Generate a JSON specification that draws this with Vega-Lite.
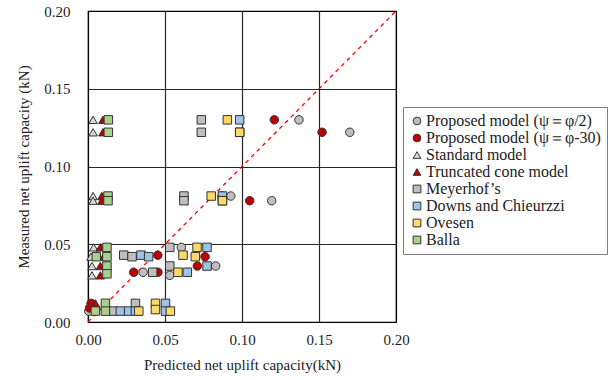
{
  "$schema": "https://vega.github.io/schema/vega-lite/v6.json",
  "width": 308,
  "height": 311,
  "autosize": {"type": "none"},
  "padding": {"left": 88, "top": 11, "right": 217, "bottom": 58},
  "background": "white",
  "config": {
    "view": {"stroke": "#000000", "strokeWidth": 1.2},
    "font": "'Liberation Serif', 'Times New Roman', serif",
    "axis": {
      "labelFont": "'Liberation Serif', 'Times New Roman', serif",
      "titleFont": "'Liberation Serif', 'Times New Roman', serif",
      "labelFontSize": 15,
      "titleFontSize": 15,
      "labelColor": "#222222",
      "titleColor": "#222222",
      "titleFontWeight": "normal",
      "ticks": false,
      "domain": false,
      "labelFlush": false,
      "grid": true,
      "gridColor": "#000000",
      "gridOpacity": 0.85,
      "gridWidth": 1.2
    }
  },
  "datasets": {
    "pts": [
      {"m": "Proposed model (ψ＝φ/2)", "x": 0.137, "y": 0.130},
      {"m": "Proposed model (ψ＝φ/2)", "x": 0.170, "y": 0.122},
      {"m": "Proposed model (ψ＝φ/2)", "x": 0.0927, "y": 0.081},
      {"m": "Proposed model (ψ＝φ/2)", "x": 0.1193, "y": 0.078},
      {"m": "Proposed model (ψ＝φ/2)", "x": 0.0606, "y": 0.048},
      {"m": "Proposed model (ψ＝φ/2)", "x": 0.0829, "y": 0.036},
      {"m": "Proposed model (ψ＝φ/2)", "x": 0.0358, "y": 0.032},
      {"m": "Proposed model (ψ＝φ/2)", "x": 0.0531, "y": 0.030},
      {"m": "Proposed model (ψ＝φ/2)", "x": 0.0005, "y": 0.007},
      {"m": "Proposed model (ψ＝φ-30)", "x": 0.121, "y": 0.130},
      {"m": "Proposed model (ψ＝φ-30)", "x": 0.152, "y": 0.122},
      {"m": "Proposed model (ψ＝φ-30)", "x": 0.087, "y": 0.081},
      {"m": "Proposed model (ψ＝φ-30)", "x": 0.105, "y": 0.078},
      {"m": "Proposed model (ψ＝φ-30)", "x": 0.0453, "y": 0.043},
      {"m": "Proposed model (ψ＝φ-30)", "x": 0.076, "y": 0.042},
      {"m": "Proposed model (ψ＝φ-30)", "x": 0.071, "y": 0.036},
      {"m": "Proposed model (ψ＝φ-30)", "x": 0.0297, "y": 0.032},
      {"m": "Proposed model (ψ＝φ-30)", "x": 0.0454, "y": 0.032},
      {"m": "Proposed model (ψ＝φ-30)", "x": 0.002, "y": 0.012},
      {"m": "Proposed model (ψ＝φ-30)", "x": 0.001, "y": 0.009},
      {"m": "Standard model", "x": 0.0033, "y": 0.130},
      {"m": "Standard model", "x": 0.0033, "y": 0.122},
      {"m": "Standard model", "x": 0.0033, "y": 0.081},
      {"m": "Standard model", "x": 0.0033, "y": 0.078},
      {"m": "Standard model", "x": 0.0037, "y": 0.048},
      {"m": "Standard model", "x": 0.002, "y": 0.042},
      {"m": "Standard model", "x": 0.0026, "y": 0.036},
      {"m": "Standard model", "x": 0.0026, "y": 0.030},
      {"m": "Truncated cone model", "x": 0.0097, "y": 0.130},
      {"m": "Truncated cone model", "x": 0.0097, "y": 0.122},
      {"m": "Truncated cone model", "x": 0.009, "y": 0.081},
      {"m": "Truncated cone model", "x": 0.009, "y": 0.078},
      {"m": "Truncated cone model", "x": 0.008, "y": 0.048},
      {"m": "Truncated cone model", "x": 0.0102, "y": 0.042},
      {"m": "Truncated cone model", "x": 0.008, "y": 0.036},
      {"m": "Truncated cone model", "x": 0.008, "y": 0.030},
      {"m": "Truncated cone model", "x": 0.0048, "y": 0.012},
      {"m": "Meyerhof’s", "x": 0.0736, "y": 0.130},
      {"m": "Meyerhof’s", "x": 0.0736, "y": 0.122},
      {"m": "Meyerhof’s", "x": 0.0623, "y": 0.081},
      {"m": "Meyerhof’s", "x": 0.0623, "y": 0.078},
      {"m": "Meyerhof’s", "x": 0.0531, "y": 0.048},
      {"m": "Meyerhof’s", "x": 0.0232, "y": 0.043},
      {"m": "Meyerhof’s", "x": 0.0286, "y": 0.042},
      {"m": "Meyerhof’s", "x": 0.0531, "y": 0.036},
      {"m": "Meyerhof’s", "x": 0.042, "y": 0.032},
      {"m": "Meyerhof’s", "x": 0.0308, "y": 0.012},
      {"m": "Meyerhof’s", "x": 0.0167, "y": 0.007},
      {"m": "Downs and Chieurzzi", "x": 0.0985, "y": 0.130},
      {"m": "Downs and Chieurzzi", "x": 0.0985, "y": 0.122},
      {"m": "Downs and Chieurzzi", "x": 0.0873, "y": 0.081},
      {"m": "Downs and Chieurzzi", "x": 0.0873, "y": 0.078},
      {"m": "Downs and Chieurzzi", "x": 0.0773, "y": 0.048},
      {"m": "Downs and Chieurzzi", "x": 0.0344, "y": 0.043},
      {"m": "Downs and Chieurzzi", "x": 0.0394, "y": 0.042},
      {"m": "Downs and Chieurzzi", "x": 0.0773, "y": 0.036},
      {"m": "Downs and Chieurzzi", "x": 0.0645, "y": 0.032},
      {"m": "Downs and Chieurzzi", "x": 0.0503, "y": 0.012},
      {"m": "Downs and Chieurzzi", "x": 0.021, "y": 0.007},
      {"m": "Downs and Chieurzzi", "x": 0.0264, "y": 0.007},
      {"m": "Downs and Chieurzzi", "x": 0.0308, "y": 0.007},
      {"m": "Downs and Chieurzzi", "x": 0.0503, "y": 0.007},
      {"m": "Ovesen", "x": 0.0905, "y": 0.130},
      {"m": "Ovesen", "x": 0.0985, "y": 0.122},
      {"m": "Ovesen", "x": 0.080, "y": 0.081},
      {"m": "Ovesen", "x": 0.0873, "y": 0.078},
      {"m": "Ovesen", "x": 0.0708, "y": 0.048},
      {"m": "Ovesen", "x": 0.0617, "y": 0.043},
      {"m": "Ovesen", "x": 0.0697, "y": 0.042},
      {"m": "Ovesen", "x": 0.0584, "y": 0.032},
      {"m": "Ovesen", "x": 0.0438, "y": 0.012},
      {"m": "Ovesen", "x": 0.0438, "y": 0.008},
      {"m": "Ovesen", "x": 0.033, "y": 0.007},
      {"m": "Ovesen", "x": 0.0535, "y": 0.007},
      {"m": "Balla", "x": 0.0132, "y": 0.130},
      {"m": "Balla", "x": 0.0132, "y": 0.122},
      {"m": "Balla", "x": 0.013, "y": 0.081},
      {"m": "Balla", "x": 0.013, "y": 0.078},
      {"m": "Balla", "x": 0.0123, "y": 0.048},
      {"m": "Balla", "x": 0.0054, "y": 0.042},
      {"m": "Balla", "x": 0.0123, "y": 0.042},
      {"m": "Balla", "x": 0.0123, "y": 0.036},
      {"m": "Balla", "x": 0.0123, "y": 0.031},
      {"m": "Balla", "x": 0.0113, "y": 0.012},
      {"m": "Balla", "x": 0.0048, "y": 0.007},
      {"m": "Balla", "x": 0.0113, "y": 0.007}
    ],
    "diag": [
      {"x": 0, "y": 0},
      {"x": 0.2, "y": 0.2}
    ]
  },
  "layer": [
    {
      "data": {"name": "diag"},
      "mark": {"type": "line", "color": "#FF0000", "strokeDash": [4, 4], "strokeWidth": 1.3, "clip": true},
      "encoding": {
        "x": {"field": "x", "type": "quantitative"},
        "y": {"field": "y", "type": "quantitative"}
      }
    },
    {
      "data": {"name": "pts"},
      "mark": {"type": "point", "filled": true, "opacity": 1, "stroke": "#333333", "strokeWidth": 1, "size": 72},
      "encoding": {
        "x": {
          "field": "x", "type": "quantitative",
          "scale": {"domain": [0, 0.2], "nice": false},
          "axis": {"values": [0, 0.05, 0.1, 0.15, 0.2], "format": ".2f", "labelPadding": 10, "title": "Predicted net uplift capacity(kN)", "titlePadding": 10}
        },
        "y": {
          "field": "y", "type": "quantitative",
          "scale": {"domain": [0, 0.2], "nice": false},
          "axis": {"values": [0, 0.05, 0.1, 0.15, 0.2], "format": ".2f", "labelPadding": 18, "title": "Measured net uplift capacity (kN)", "titlePadding": 12}
        },
        "fill": {
          "field": "m", "type": "nominal",
          "scale": {
            "domain": ["Proposed model (ψ＝φ/2)", "Proposed model (ψ＝φ-30)", "Standard model", "Truncated cone model", "Meyerhof’s", "Downs and Chieurzzi", "Ovesen", "Balla"],
            "range": ["#BFBFBF", "#C00000", "#D9D9D9", "#C00000", "#BFBFBF", "#9DC3E6", "#FFD966", "#A9D18E"]
          },
          "legend": {
            "title": null,
            "orient": "none",
            "legendX": 315,
            "legendY": 96,
            "padding": 6,
            "strokeColor": "#7F7F7F",
            "fillColor": "white",
            "labelFont": "'Liberation Serif', 'Times New Roman', serif",
            "labelFontSize": 16,
            "labelColor": "#222222",
            "labelLimit": 300,
            "labelOffset": 1,
            "symbolSize": 60,
            "symbolStrokeColor": "#333333",
            "symbolStrokeWidth": 1,
            "rowPadding": 1
          }
        },
        "shape": {
          "field": "m", "type": "nominal",
          "scale": {
            "domain": ["Proposed model (ψ＝φ/2)", "Proposed model (ψ＝φ-30)", "Standard model", "Truncated cone model", "Meyerhof’s", "Downs and Chieurzzi", "Ovesen", "Balla"],
            "range": ["circle", "circle", "triangle-up", "triangle-up", "square", "square", "square", "square"]
          }
        }
      }
    }
  ]
}
